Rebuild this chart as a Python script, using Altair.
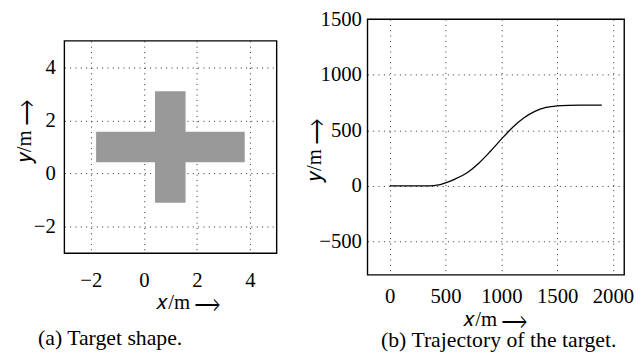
import altair as alt
import pandas as pd

# ---- data: (a) target shape (cross made of two rectangles)
rect_x1 = [-1.8, 0.42]
rect_x2 = [3.8, 1.57]
rect_y1 = [0.42, -1.1]
rect_y2 = [1.57, 3.1]

# ---- data: (b) trajectory of the target
traj_x = [0, 200, 300, 400, 440, 480, 580, 700, 800, 900, 1000, 1100, 1200,
          1300, 1400, 1500, 1600, 1700, 1800, 1900]
traj_y = [0, 0, 0, 3, 8, 20, 59, 123, 206, 309, 420, 525, 610,
          670, 705, 720, 725, 726, 726, 726]

left_ticks = [-2, 0, 2, 4]
right_xticks = [0, 500, 1000, 1500, 2000]
right_yticks = [-500, 0, 500, 1000, 1500]

FONT = "Liberation Serif"
FS = 21
XT = "𝑥/m ⟶"
YT = "𝑦/m ⟶"

cross_df = pd.DataFrame({"x1": rect_x1, "x2": rect_x2, "y1": rect_y1, "y2": rect_y2})
traj_df = pd.DataFrame({"x": traj_x, "y": traj_y})

common_axis = dict(
    grid=True, gridColor="black", gridDash=[1, 4.4], gridWidth=1, gridOpacity=0.85,
    ticks=False, tickSize=0, domain=False, labelFlush=False, labelOverlap=False,
    format="d",
    labelFont=FONT, labelFontSize=FS, labelColor="black",
    titleFont=FONT, titleFontSize=FS, titleFontWeight="normal", titleColor="black",
)

left = alt.Chart(cross_df).mark_rect(color="#999999").encode(
    x=alt.X("x1:Q", scale=alt.Scale(domain=[-3, 5], nice=False, zero=False),
            axis=alt.Axis(values=left_ticks, title=XT, labelPadding=17,
                          titleX=125, titleY=50, titleBaseline="middle", **common_axis)),
    x2="x2:Q",
    y=alt.Y("y1:Q", scale=alt.Scale(domain=[-3, 5], nice=False, zero=False),
            axis=alt.Axis(values=left_ticks, title=YT, labelPadding=9,
                          titleX=-40, titleY=91, titleBaseline="middle", **common_axis)),
    y2="y2:Q",
).properties(
    width=215, height=215,
    title=alt.TitleParams("(a) Target shape.", orient="bottom", dx=-61, offset=16,
                          font=FONT, fontSize=22, fontWeight="normal", color="black"),
)

right = alt.Chart(traj_df).mark_line(color="black", strokeWidth=1.3, interpolate="monotone").encode(
    x=alt.X("x:Q", scale=alt.Scale(domain=[-200, 2100], nice=False, zero=False),
            axis=alt.Axis(values=right_xticks, title=XT, labelPadding=11,
                          titleX=129, titleY=45, titleBaseline="middle", **common_axis)),
    y=alt.Y("y:Q", scale=alt.Scale(domain=[-800, 1500], nice=False, zero=False),
            axis=alt.Axis(values=right_yticks, title=YT, labelPadding=6,
                          titleX=-54, titleY=132, titleBaseline="middle", **common_axis)),
).properties(
    width=260, height=259,
    title=alt.TitleParams("(b) Trajectory of the target.", orient="bottom", dx=3, offset=1,
                          font=FONT, fontSize=22, fontWeight="normal", color="black"),
)

chart = alt.hconcat(left, right, spacing=92, bounds="flush", center=True).configure(
    font=FONT
).configure_view(
    stroke="black", strokeWidth=1.4
).configure_axis(
    labelFont=FONT, titleFont=FONT
).properties(padding={"left": 5, "top": -3, "right": 0, "bottom": 5}, background="white")

chart.save("out.html", embed_options={"renderer": "svg", "actions": False})
